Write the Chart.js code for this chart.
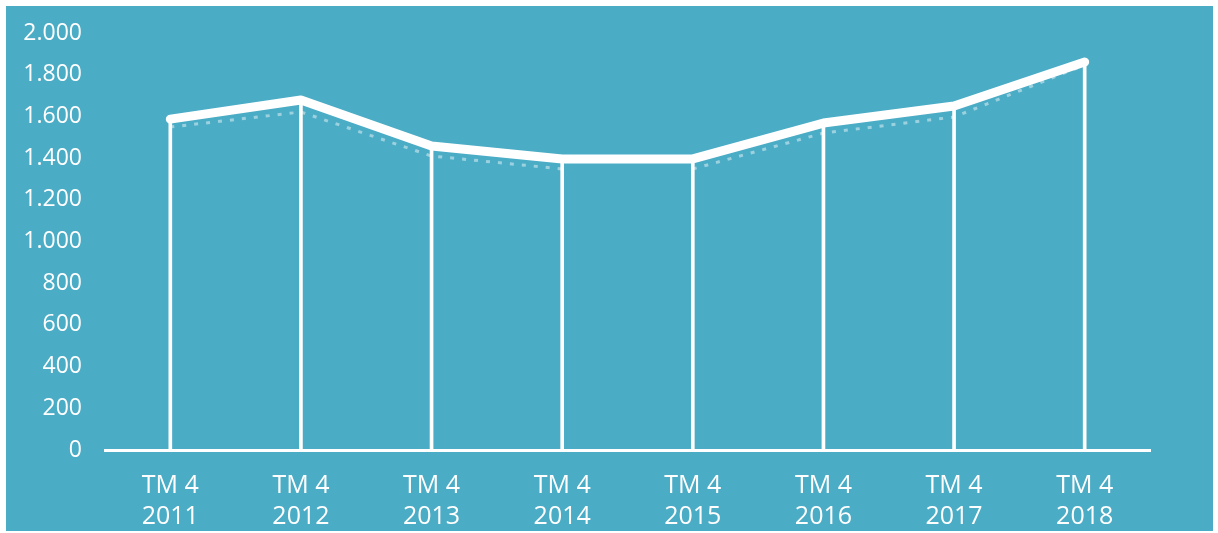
<!DOCTYPE html>
<html>
<head>
<meta charset="utf-8">
<script src="https://cdn.jsdelivr.net/npm/chart.js@4"></script>
<style>
  html, body { margin: 0; padding: 0; background: #ffffff; }
  #box {
    position: absolute;
    left: 6px;
    top: 6px;
    width: 1207px;
    height: 525px;
    background: #4bacc6;
  }
</style>
</head>
<body>
<div id="box"><canvas id="myChart"></canvas></div>
<script>
const quarters = ["TM 4", "TM 4", "TM 4", "TM 4", "TM 4", "TM 4", "TM 4", "TM 4"];
const years = ["2011", "2012", "2013", "2014", "2015", "2016", "2017", "2018"];
const mainValues = [1587, 1679, 1458, 1396, 1396, 1568, 1650, 1861];
const shadowValues = [1549, 1621, 1410, 1348, 1348, 1520, 1597, 1847];
const yTicks = [0, 200, 400, 600, 800, 1000, 1200, 1400, 1600, 1800, 2000];

const labels = years.map((y, i) => [quarters[i], y]);

const ctx = document.getElementById("myChart");
new Chart(ctx, {
  type: "line",
  data: {
    labels: labels,
    datasets: [
      {
        label: "main",
        data: mainValues,
        borderColor: "#ffffff",
        borderWidth: 9,
        borderCapStyle: "round",
        borderJoinStyle: "round",
        pointRadius: 0,
        tension: 0,
        order: 1,
      },
      {
        label: "shadow",
        data: shadowValues,
        borderColor: "rgba(255,255,255,0.45)",
        borderWidth: 3,
        borderDash: [4, 8],
        pointRadius: 0,
        tension: 0,
        order: 2,
        segment: {
          borderColor: (c) => (c.p0DataIndex === 3 ? "rgba(0,0,0,0)" : undefined),
        },
      },
      {
        type: "bar",
        label: "drop",
        data: mainValues,
        backgroundColor: "#ffffff",
        barThickness: 3,
        order: 3,
      },
    ],
  },
  options: {
    responsive: true,
    maintainAspectRatio: false,
    animation: false,
    layout: {
      padding: { top: 27, right: 63, bottom: 0, left: 0 },
    },
    plugins: {
      legend: { display: false },
      tooltip: { enabled: false },
    },
    scales: {
      x: {
        offset: true,
        grid: { display: false },
        border: { display: true, color: "#ffffff", width: 3 },
        ticks: {
          color: "#ffffff",
          padding: 12,
          maxRotation: 0,
          font: { family: "Open Sans", size: 25, lineHeight: 1.25 },
        },
        afterFit: (s) => {
          s.height = 81;
          s.paddingLeft = 0;
          s.paddingRight = 0;
        },
      },
      y: {
        min: 0,
        max: 2000,
        afterBuildTicks: (s) => { s.ticks = yTicks.map((v) => ({ value: v })); },
        grid: { display: false },
        border: { display: false },
        ticks: {
          color: "#ffffff",
          padding: 15,
          font: { family: "Open Sans", size: 23 },
          callback: (v) => v.toLocaleString("de-DE"),
        },
        afterFit: (s) => {
          s.width = 99;
          s.paddingTop = 0;
          s.paddingBottom = 0;
        },
      },
    },
  },
});
</script>
</body>
</html>
